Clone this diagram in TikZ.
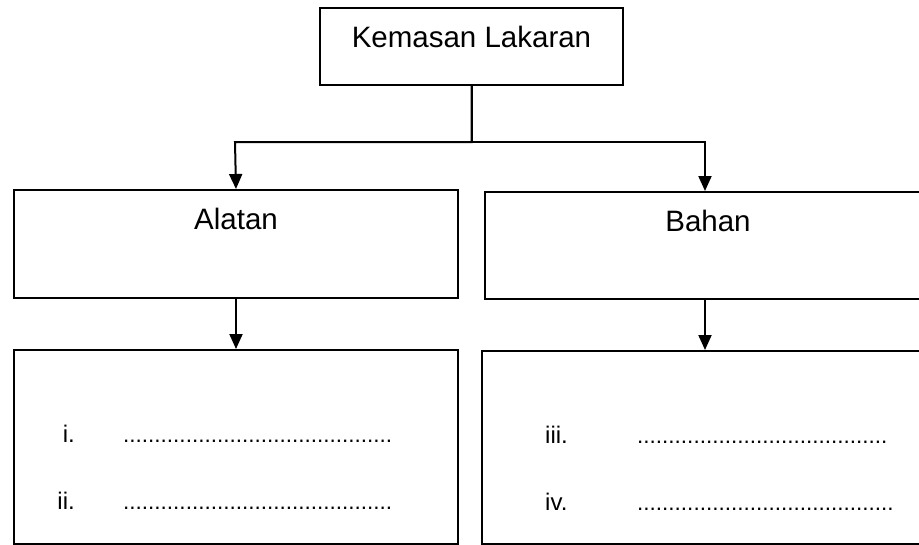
\documentclass[tikz,border=0pt]{standalone}
\usepackage{fontspec}
\setmainfont{Liberation Sans}
\usetikzlibrary{arrows.meta}

\begin{document}
\begin{tikzpicture}[x=1pt, y=-1pt,
    kotak/.style={draw, line width=2pt, inner sep=0pt, anchor=north west,
        font=\fontsize{29.5}{34}\selectfont, text height=39pt},
    kotakbesar/.style={draw, line width=2pt, inner sep=0pt, anchor=north west,
        text height=0pt, text depth=0pt},
    panah/.style={line width=2pt, -{Triangle[length=15pt, width=13pt]}},
    nombor/.style={inner sep=0pt, anchor=base east, font=\fontsize{24}{28}\selectfont},
    titik/.style={inner sep=0pt, anchor=base west, font=\fontsize{22.5}{26}\selectfont}]
    \useasboundingbox (0, 0) rectangle (919, 544);
    % kotak atas dan dua cabang
    \node[kotak, minimum width=303pt, text depth=38pt] (0) at (319, 7) {Kemasan Lakaran};
    \node[kotak, minimum width=444pt, text depth=69pt] (1) at (13, 189) {Alatan};
    \node[kotak, minimum width=446pt, text depth=68pt] (2) at (484, 191) {Bahan};
    \node[kotakbesar, minimum width=444pt, minimum height=194pt] (3) at (13, 349) {};
    \node[kotakbesar, minimum width=448pt, minimum height=193pt] (4) at (481, 350) {};
    \coordinate (a) at (235, 142);
    \coordinate (b) at (705, 142);
    \draw[panah] (0.south) |- (a) -- (1.north);
    \draw[panah] (0.south) |- (b) -- (b |- 2.north);
    \draw[panah] (1.south) -- (3.north);
    \draw[panah] (b |- 2.south) -- (b |- 4.north);
    % senarai
    \node[nombor] (5) at (75, 442) {i.};
    \node[titik] (6) at (123, 442) {...........................................};
    \node[nombor] (7) at (75, 509) {ii.};
    \node[titik] (8) at (123, 509) {...........................................};
    \node[nombor, anchor=base west] (9) at (545, 443) {iii.};
    \node[titik] (10) at (637, 443) {........................................};
    \node[nombor, anchor=base west] (11) at (545, 510) {iv.};
    \node[titik] (12) at (637, 510) {.........................................};
\end{tikzpicture}
\end{document}
